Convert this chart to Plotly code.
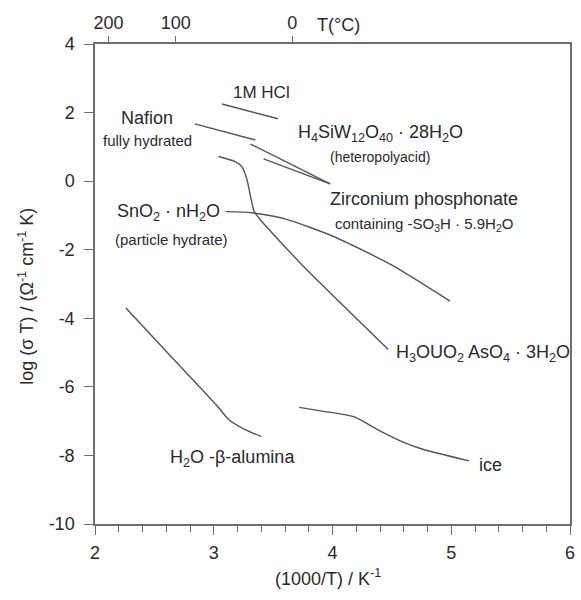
import plotly.graph_objects as go

# ---- data ----
hcl_x = [3.07, 3.54]
hcl_y = [2.25, 1.82]

nafion_x = [2.84, 3.35]
nafion_y = [1.67, 1.20]

hpa_x = [3.31, 3.98]
hpa_y = [1.08, -0.08]

zr_x = [3.42, 3.98]
zr_y = [0.65, -0.08]

uo2_x = [3.04, 3.18, 3.24, 3.28, 3.31, 3.34, 3.39, 3.74, 4.47]
uo2_y = [0.72, 0.57, 0.41, 0.04, -0.45, -0.88, -1.12, -2.43, -4.91]

sno2_x = [3.10, 3.32, 3.60, 4.00, 4.50, 4.99]
sno2_y = [-0.89, -0.92, -1.10, -1.60, -2.45, -3.50]

alum_x = [2.26, 2.65, 3.04, 3.125, 3.26, 3.40]
alum_y = [-3.70, -5.15, -6.60, -6.95, -7.24, -7.45]

ice_x = [3.72, 3.90, 4.18, 4.375, 4.60, 4.76, 5.15]
ice_y = [-6.60, -6.70, -6.87, -7.24, -7.62, -7.82, -8.16]

top_celsius = [200, 100, 0]
x_ticks = [2, 3, 4, 5, 6]
y_ticks = [-10, -8, -6, -4, -2, 0, 2, 4]
y_ticktext = ["-10", "-8", "-6", "-4", "-2", "0", "2", "4"]

LINE = "#555555"
TXT = "#2a2a2a"
FONT = "Liberation Sans, Arial, sans-serif"

fig = go.Figure()
for xs, ys in [(hcl_x, hcl_y), (nafion_x, nafion_y), (hpa_x, hpa_y), (zr_x, zr_y),
               (uo2_x, uo2_y), (sno2_x, sno2_y), (alum_x, alum_y), (ice_x, ice_y)]:
    fig.add_trace(go.Scatter(x=xs, y=ys, mode="lines",
                             line=dict(color=LINE, width=1.4, shape="spline", smoothing=0.6),
                             showlegend=False, hoverinfo="skip"))

# invisible trace to activate the top axis
top_x = [1000.0 / (t + 273.15) for t in top_celsius]
fig.add_trace(go.Scatter(x=top_x, y=[None] * len(top_x), xaxis="x2", mode="markers",
                         showlegend=False, hoverinfo="skip"))


def ann(text, x, y, size=18, xanchor="center"):
    fig.add_annotation(text=text, x=x, y=y, xref="x", yref="y", showarrow=False,
                       font=dict(size=size, color=TXT, family=FONT), xanchor=xanchor, yanchor="middle")


ann("1M HCl", 3.40, 2.60, 17)
ann("Nafion", 2.44, 1.84, 18)
ann("fully hydrated", 2.44, 1.20, 15)
ann("H<sub>4</sub>SiW<sub>12</sub>O<sub>40</sub> · 28H<sub>2</sub>O", 4.40, 1.40, 18)
ann("(heteropolyacid)", 4.40, 0.70, 14)
ann("Zirconium phosphonate", 4.77, -0.52, 18)
ann("containing -SO<sub>3</sub>H · 5.9H<sub>2</sub>O", 4.77, -1.25, 15)
ann("SnO<sub>2</sub> · nH<sub>2</sub>O", 3.07, -0.90, 18, "right")
ann("(particle hydrate)", 2.64, -1.69, 15)
ann("H<sub>3</sub>OUO<sub>2</sub> AsO<sub>4</sub> · 3H<sub>2</sub>O", 4.52, -5.04, 18, "left")
ann("H<sub>2</sub>O -β-alumina", 3.16, -8.08, 18)
ann("ice", 5.22, -8.28, 18, "left")

fig.add_annotation(text="T(°C)", x=4.05, y=1.04, xref="x", yref="paper", showarrow=False,
                   font=dict(size=18, color=TXT, family=FONT), xanchor="center", yanchor="middle")
fig.add_annotation(text="(1000/T) / K<sup>-1</sup>", x=0.49, y=-0.112, xref="paper", yref="paper",
                   showarrow=False, font=dict(size=18, color=TXT, family=FONT),
                   xanchor="center", yanchor="middle")
fig.add_annotation(text="log (σ T) / (Ω<sup>-1</sup> cm<sup>-1</sup> K)", x=-0.146, y=0.475,
                   xref="paper", yref="paper", showarrow=False, textangle=-90,
                   font=dict(size=18, color=TXT, family=FONT), xanchor="center", yanchor="middle")

axcol = "#6e6e6e"
fig.update_layout(
    width=581, height=600,
    margin=dict(l=95, r=6, t=44, b=76),
    paper_bgcolor="white", plot_bgcolor="white",
    font=dict(family=FONT, size=18, color=TXT),
    xaxis=dict(range=[2, 6], tickvals=x_ticks, ticks="outside", ticklen=9, tickwidth=1.2, tickcolor=axcol,
               showline=True, linecolor=axcol, linewidth=1.5, mirror=True, showgrid=False, zeroline=False,
               minor=dict(dtick=0.2, ticks="outside", ticklen=6, tickcolor=axcol, tickwidth=1),
               ticklabelstandoff=3, tickfont=dict(size=18, color=TXT)),
    xaxis2=dict(range=[2, 6], overlaying="x", side="top", tickvals=top_x,
                ticktext=[str(t) for t in top_celsius], ticks="outside", ticklen=6, tickcolor=axcol,
                showline=True, linecolor=axcol, linewidth=1.5, showgrid=False, zeroline=False,
                tickfont=dict(size=18, color=TXT)),
    yaxis=dict(range=[-10, 4], tickvals=y_ticks, ticktext=y_ticktext, ticks="outside", ticklen=9,
               tickwidth=1.2, tickcolor=axcol,
               showline=True, linecolor=axcol, linewidth=1.5, mirror=True, showgrid=False, zeroline=False,
               ticklabelstandoff=6, tickfont=dict(size=18, color=TXT)),
)

fig.write_html("out.html")
